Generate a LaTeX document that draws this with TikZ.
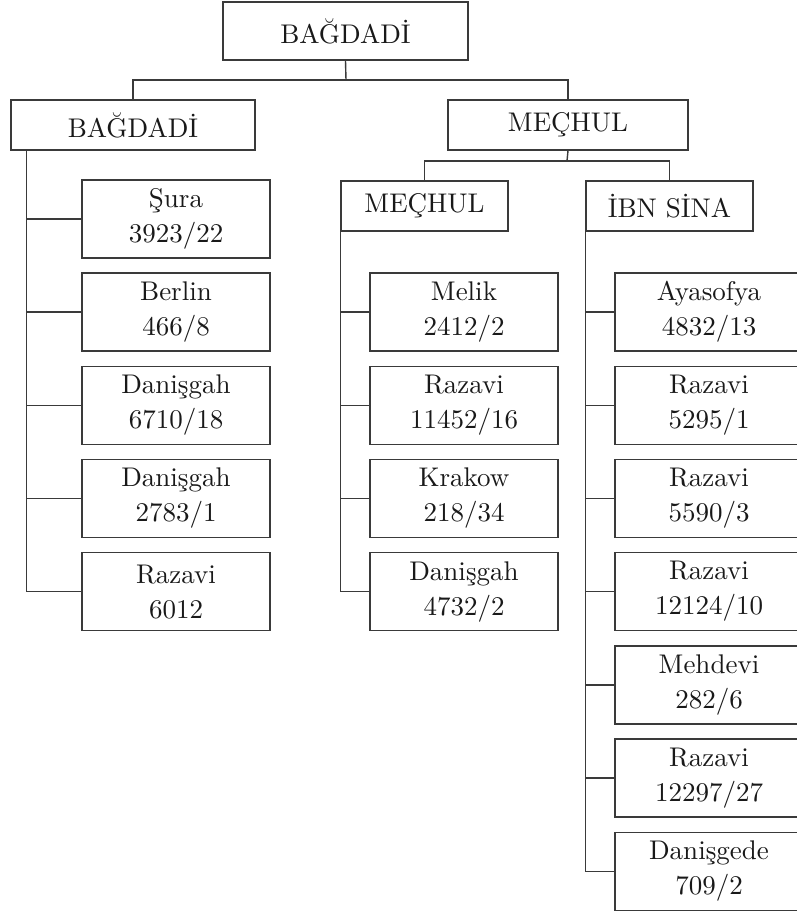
\documentclass[tikz,border=0pt]{standalone}
\usepackage{fontspec}
\setmainfont{lmroman10-regular.otf}
\definecolor{ink}{HTML}{3A3A3A}
\tikzset{
  kutu/.style={draw=ink,line width=1.4pt,text=black!90,align=center,inner sep=0pt,
    minimum width=188pt,minimum height=78pt,font=\fontsize{27}{35}\selectfont},
  baslik/.style={kutu,minimum height=50pt},
  hat/.style={draw=ink,line width=1.4pt}
}
\begin{document}
\begin{tikzpicture}[x=1pt,y=-1pt]
\useasboundingbox (0,0) rectangle (796,911);
% ust seviye
\node[baslik,minimum width=245pt,minimum height=58pt] (kok) at (345.5,31) {BAĞDADİ};
\node[baslik,minimum width=244pt] (bag) at (133,125) {BAĞDADİ};
\node[baslik,minimum width=240pt] (mec) at (568,125) {MEÇHUL};
\node[baslik,minimum width=167pt] (mec2) at (424.5,206) {MEÇHUL};
\node[baslik,minimum width=167pt] (ibn) at (669.5,206) {İBN SİNA};
\coordinate (j1) at (346,80);
\coordinate (j2) at (567,161);
\draw[hat] (kok.south) -- (j1);
\draw[hat] (bag.north) |- (j1) -| (mec.north);
\draw[hat] (mec.south) -- (j2);
\draw[hat] (mec2.north) |- (j2) -| (ibn.north);
% sol sutun
\node[kutu] (b1) at (176,218.8) {Şura\\3923/22};
\node[kutu] (b2) at (176,312) {Berlin\\466/8};
\node[kutu] (b3) at (176,405.2) {Danişgah\\6710/18};
\node[kutu] (b4) at (176,498.4) {Danişgah\\2783/1};
\node[kutu] (b5) at (176,591.6) {Razavi\\6012};
\foreach \i in {1,...,5}
  \draw[hat] ([xshift=16pt]bag.south west) |- (b\i.west);
% orta sutun
\node[kutu] (m1) at (464,312) {Melik\\2412/2};
\node[kutu] (m2) at (464,405.2) {Razavi\\11452/16};
\node[kutu] (m3) at (464,498.4) {Krakow\\218/34};
\node[kutu] (m4) at (464,591.6) {Danişgah\\4732/2};
\foreach \i in {1,...,4}
  \draw[hat] (mec2.south west) |- (m\i.west);
% sag sutun
\node[kutu] (s1) at (709,312) {Ayasofya\\4832/13};
\node[kutu] (s2) at (709,405.2) {Razavi\\5295/1};
\node[kutu] (s3) at (709,498.4) {Razavi\\5590/3};
\node[kutu] (s4) at (709,591.6) {Razavi\\12124/10};
\node[kutu] (s5) at (709,684.8) {Mehdevi\\282/6};
\node[kutu] (s6) at (709,778) {Razavi\\12297/27};
\node[kutu] (s7) at (709,871.2) {Danişgede\\709/2};
\foreach \i in {1,...,7}
  \draw[hat] (ibn.south west) |- (s\i.west);
\end{tikzpicture}
\end{document}
